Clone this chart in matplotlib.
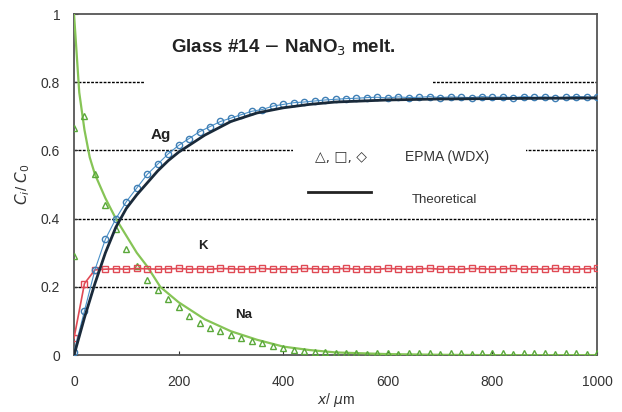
import matplotlib.pyplot as plt
from matplotlib.patches import Rectangle

plt.rcParams['font.family'] = ['Liberation Sans', 'DejaVu Sans']

# measured points (EPMA), every 20 um
x_data = list(range(0, 1001, 20))
ag_data = [0.01, 0.13, 0.25, 0.34, 0.40, 0.45, 0.49, 0.53, 0.56, 0.59,
           0.615, 0.635, 0.655, 0.67, 0.685, 0.695, 0.705, 0.715, 0.72, 0.73,
           0.735, 0.74, 0.742, 0.745, 0.748, 0.75, 0.752, 0.753, 0.755, 0.756,
           0.754, 0.757, 0.755, 0.756, 0.758, 0.755, 0.757, 0.756, 0.755, 0.758,
           0.756, 0.757, 0.755, 0.758, 0.756, 0.757, 0.755, 0.756, 0.758, 0.757,
           0.756]
k_data = [0.05, 0.21, 0.25, 0.252, 0.253, 0.252, 0.254, 0.253, 0.252, 0.253,
          0.254, 0.252, 0.253, 0.252, 0.254, 0.253, 0.252, 0.253, 0.254, 0.252,
          0.253, 0.252, 0.254, 0.253, 0.252, 0.253, 0.254, 0.252, 0.253, 0.252,
          0.254, 0.253, 0.252, 0.253, 0.254, 0.252, 0.253, 0.252, 0.254, 0.253,
          0.252, 0.253, 0.254, 0.252, 0.253, 0.252, 0.254, 0.253, 0.252, 0.253,
          0.254]
na_data = [0.665, 0.70, 0.53, 0.44, 0.37, 0.31, 0.26, 0.22, 0.19, 0.165,
           0.14, 0.115, 0.095, 0.08, 0.07, 0.06, 0.05, 0.042, 0.035, 0.028,
           0.02, 0.016, 0.013, 0.01, 0.008, 0.006, 0.005, 0.006, 0.004, 0.005,
           0.006, 0.004, 0.005, 0.006, 0.005, 0.004, 0.006, 0.005, 0.004, 0.005,
           0.006, 0.005, 0.004, 0.005, 0.006, 0.005, 0.004, 0.006, 0.005, 0.004,
           0.005]
na_extra_x = [0]
na_extra_y = [0.29]

# calculated curves
x_ag_theo = [0, 20, 40, 60, 80, 100, 120, 140, 160, 180, 200, 250, 300, 350,
             400, 450, 500, 600, 700, 800, 900, 1000]
ag_theo = [0, 0.11, 0.21, 0.30, 0.375, 0.43, 0.47, 0.505, 0.54, 0.57, 0.595,
           0.645, 0.685, 0.71, 0.725, 0.735, 0.742, 0.748, 0.751, 0.752, 0.753,
           0.754]
x_na_theo = [0, 10, 20, 30, 40, 60, 80, 100, 120, 140, 165, 200, 250, 300, 350,
             400, 450, 500, 600, 700, 800, 1000]
na_theo = [1.0, 0.77, 0.66, 0.58, 0.53, 0.46, 0.40, 0.35, 0.30, 0.26, 0.20,
           0.155, 0.105, 0.07, 0.045, 0.025, 0.015, 0.008, 0.003, 0.001, 0, 0]

fig = plt.figure(figsize=(6.22, 4.12), dpi=100)
ax = fig.add_axes([0.119, 0.138, 0.841, 0.828])

for yv in [0.2, 0.4, 0.6, 0.8]:
    ax.axhline(yv, color='black', lw=1.0, ls=(0, (2, 1)), zorder=1)

# white boxes behind the title and the key
ax.add_patch(Rectangle((136, 0.79), 551, 0.19, facecolor='white', edgecolor='none', zorder=2))
ax.add_patch(Rectangle((418, 0.43), 446, 0.21, facecolor='white', edgecolor='none', zorder=2))

ax.plot(x_na_theo, na_theo, color='#86c456', lw=1.6, zorder=3)
ax.plot(x_data, na_data, ls='none', marker='^', ms=4.5, mfc='none', mec='#5aa83a', mew=1.0, zorder=4)
ax.plot(na_extra_x, na_extra_y, ls='none', marker='^', ms=4.5, mfc='none', mec='#5aa83a', mew=1.0, zorder=4)

ax.plot(x_data, k_data, color='#e04a55', lw=1.2, marker='s', ms=4.5, mfc='none', mec='#e04a55', mew=1.0, zorder=4)

ax.plot(x_data, ag_data, color='#4a90c8', lw=0.8, marker='o', ms=4.5, mfc='none', mec='#3f7fb5', mew=1.0, zorder=4)
ax.plot(x_ag_theo, ag_theo, color='#1a2a3a', lw=2.0, zorder=5)

ax.set_xlim(0, 1000)
ax.set_ylim(0, 1)
ax.set_xticks([0, 200, 400, 600, 800, 1000])
ax.set_yticks([0, 0.2, 0.4, 0.6, 0.8, 1])
ax.set_yticklabels(['0', '0.2', '0.4', '0.6', '0.8', '1'])
ax.tick_params(direction='in', length=3, labelsize=10, colors='#333333')
ax.tick_params(axis='y', pad=10)
ax.tick_params(axis='x', pad=14)
for s in ax.spines.values():
    s.set_color('#555555')
    s.set_linewidth(1.3)

ax.text(400, 0.90, r'Glass #14 $-$ NaNO$_3$ melt.', ha='center', va='center',
        fontsize=13.5, fontweight='bold', color='#222222', zorder=6)
ax.text(165, 0.645, 'Ag', ha='center', va='center', fontsize=11, fontweight='bold', color='#222222', zorder=6)
ax.text(247, 0.32, 'K', ha='center', va='center', fontsize=9.5, fontweight='bold', color='#222222', zorder=6)
ax.text(324, 0.117, 'Na', ha='center', va='center', fontsize=9.5, fontweight='bold', color='#222222', zorder=6)

ax.text(510, 0.582, '\u25b3, \u25a1, \u25c7', ha='center', va='center', fontsize=10, color='#333333',
        family=['DejaVu Sans'], zorder=6)
ax.text(713, 0.582, 'EPMA (WDX)', ha='center', va='center', fontsize=10, color='#333333', zorder=6)
ax.plot([448, 567], [0.478, 0.478], color='#222222', lw=2.0, zorder=6)
ax.text(709, 0.455, 'Theoretical', ha='center', va='center', fontsize=9.5, color='#333333', zorder=6)

ax.set_xlabel(r'$x$/ $\mu$m', fontsize=10, color='#333333', labelpad=2)
ax.set_ylabel(r'$C_i$/ $C_0$', fontsize=11, color='#333333', labelpad=6)

fig.savefig('out.png', dpi=100)
